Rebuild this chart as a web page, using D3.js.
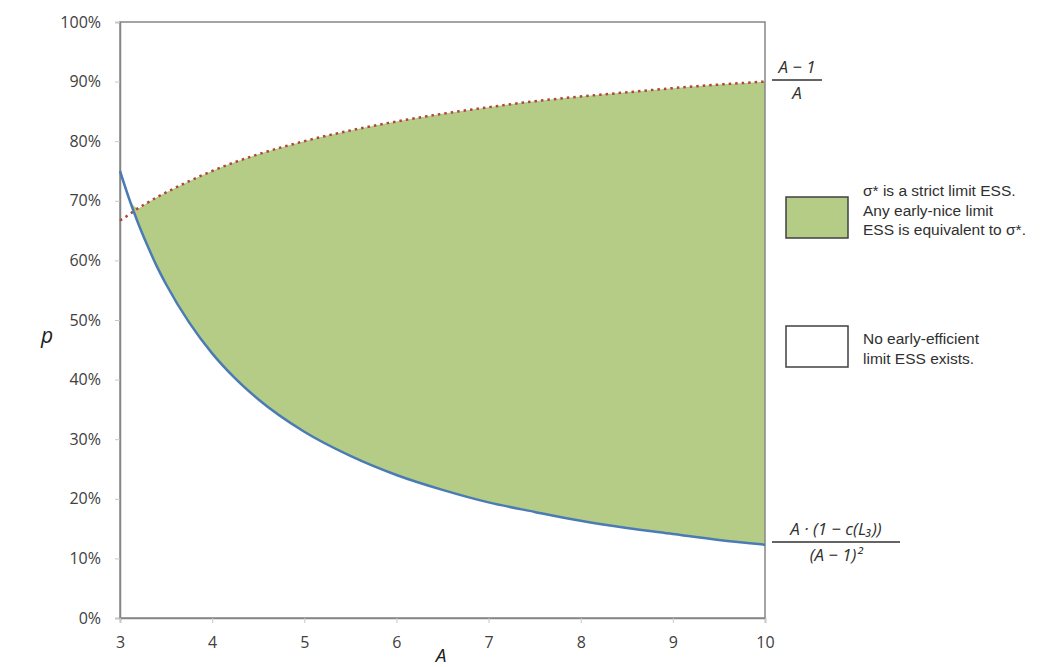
<!DOCTYPE html>
<html>
<head>
<meta charset="utf-8">
<script src="https://cdn.jsdelivr.net/npm/d3@7"></script>
<style>
  body { margin: 0; background: #fff; }
  text { font-family: "Open Sans", "DejaVu Sans", sans-serif; }
</style>
</head>
<body>
<div id="chart"></div>
<script>
var svgWidth = 1061;
var svgHeight = 667;

var margin = { top: 22, right: 296, bottom: 49, left: 120 };
var width = svgWidth - margin.left - margin.right;
var height = svgHeight - margin.top - margin.bottom;

// values
var aValues = [3, 3.1, 3.2, 3.3, 3.4, 3.5, 3.75, 4, 4.25, 4.5, 5, 5.5, 6, 6.5, 7, 7.5, 8, 8.5, 9, 9.5, 10];
var upperValues = [0.667, 0.677, 0.688, 0.697, 0.706, 0.714, 0.733, 0.75, 0.765, 0.778, 0.8, 0.818, 0.833, 0.846, 0.857, 0.867, 0.875, 0.882, 0.889, 0.895, 0.9];
var lowerValues = [0.75, 0.703, 0.661, 0.624, 0.59, 0.56, 0.496, 0.444, 0.402, 0.367, 0.3125, 0.272, 0.24, 0.215, 0.194, 0.178, 0.163, 0.151, 0.141, 0.131, 0.123];
var xTicks = [3, 4, 5, 6, 7, 8, 9, 10];
var yTicks = [0, 0.1, 0.2, 0.3, 0.4, 0.5, 0.6, 0.7, 0.8, 0.9, 1];
var legendLabels = [
  ["σ* is a strict limit ESS.", "Any early-nice limit", "ESS is equivalent to σ*."],
  ["No early-efficient", "limit ESS exists."]
];

var rows = aValues.map(function (a, i) {
  return { a: a, upper: upperValues[i], lower: lowerValues[i] };
});

var svg = d3.select("#chart").append("svg")
  .attr("width", svgWidth)
  .attr("height", svgHeight);

var chartGroup = svg.append("g")
  .attr("transform", `translate(${margin.left}, ${margin.top})`);

var xScale = d3.scaleLinear().domain([3, 10]).range([0, width]);
var yScale = d3.scaleLinear().domain([0, 1]).range([height, 0]);

// shaded region between the two curves
var area = d3.area()
  .curve(d3.curveMonotoneX)
  .x((d) => xScale(d.a))
  .y0((d) => yScale(d.lower))
  .y1((d) => yScale(Math.max(d.upper, d.lower)));

chartGroup.append("path")
  .datum(rows)
  .attr("d", area)
  .attr("fill", "#b5cc86");

// plot border
chartGroup.append("rect")
  .attr("width", width)
  .attr("height", height)
  .attr("fill", "none")
  .attr("stroke", "#868686")
  .attr("stroke-width", 1.5);

var leftAxis = d3.axisLeft(yScale)
  .tickValues(yTicks)
  .tickFormat(d3.format(".0%"))
  .tickSize(5)
  .tickPadding(14);
var bottomAxis = d3.axisBottom(xScale)
  .tickValues(xTicks)
  .tickFormat(d3.format("d"))
  .tickSize(5)
  .tickPadding(14);

var gy = chartGroup.append("g").call(leftAxis);
var gx = chartGroup.append("g")
  .attr("transform", "translate(0, " + height + ")")
  .call(bottomAxis);

[gx, gy].forEach(function (g) {
  g.select(".domain").attr("stroke", "#868686").attr("stroke-width", 1.5);
  g.selectAll(".tick line").attr("stroke", "#c8c8c8");
  g.selectAll(".tick text")
    .attr("fill", "#404040")
    .style("font-size", "16px");
});

var line = d3.line().curve(d3.curveMonotoneX).x((d) => xScale(d.a));

chartGroup.append("path")
  .datum(rows)
  .attr("d", line.y((d) => yScale(d.upper)))
  .attr("fill", "none")
  .attr("stroke", "#b0443f")
  .attr("stroke-width", 2.5)
  .attr("stroke-dasharray", "2.5,4");

chartGroup.append("path")
  .datum(rows)
  .attr("d", line.y((d) => yScale(d.lower)))
  .attr("fill", "none")
  .attr("stroke", "#4a7bb4")
  .attr("stroke-width", 2.5);

// axis titles
svg.append("text")
  .text("p")
  .attr("x", 47)
  .attr("y", 343)
  .attr("text-anchor", "middle")
  .style("font-style", "italic")
  .style("font-size", "21px")
  .attr("fill", "#202020");

svg.append("text")
  .text("A")
  .attr("x", 441)
  .attr("y", 662)
  .attr("text-anchor", "middle")
  .style("font-style", "italic")
  .style("font-size", "19px")
  .attr("fill", "#202020");

// curve labels (fractions)
function fraction(cx, barY, num, den, barW) {
  var g = svg.append("g").attr("fill", "#303030")
    .style("font-family", "'DejaVu Serif', 'Liberation Serif', serif")
    .style("font-style", "italic")
    .style("font-size", "17px");
  g.append("text").attr("x", cx).attr("y", barY - 7).attr("text-anchor", "middle").text(num);
  g.append("line")
    .attr("x1", cx - barW / 2).attr("x2", cx + barW / 2)
    .attr("y1", barY).attr("y2", barY)
    .attr("stroke", "#303030").attr("stroke-width", 1.3);
  g.append("text").attr("x", cx).attr("y", barY + 19).attr("text-anchor", "middle").text(den);
}
fraction(797, 80, "A − 1", "A", 50);
fraction(836, 542, "A · (1 − c(L₃))", "(A − 1)²", 128);

// legend
var legendBoxes = [
  { y: 197, fill: "#b5cc86", textY: 190 },
  { y: 326, fill: "#ffffff", textY: 338 }
];
legendBoxes.forEach(function (b, i) {
  svg.append("rect")
    .attr("x", 786).attr("y", b.y)
    .attr("width", 62).attr("height", 41)
    .attr("fill", b.fill)
    .attr("stroke", "#404040")
    .attr("stroke-width", 1.5);
  legendLabels[i].forEach(function (t, j) {
    svg.append("text")
      .text(t)
      .attr("x", 863)
      .attr("y", b.textY + j * 19.5 + 6)
      .style("font-family", "'Liberation Sans', Arial, sans-serif")
      .style("font-size", "15.5px")
      .attr("fill", "#303030");
  });
});
</script>
</body>
</html>
